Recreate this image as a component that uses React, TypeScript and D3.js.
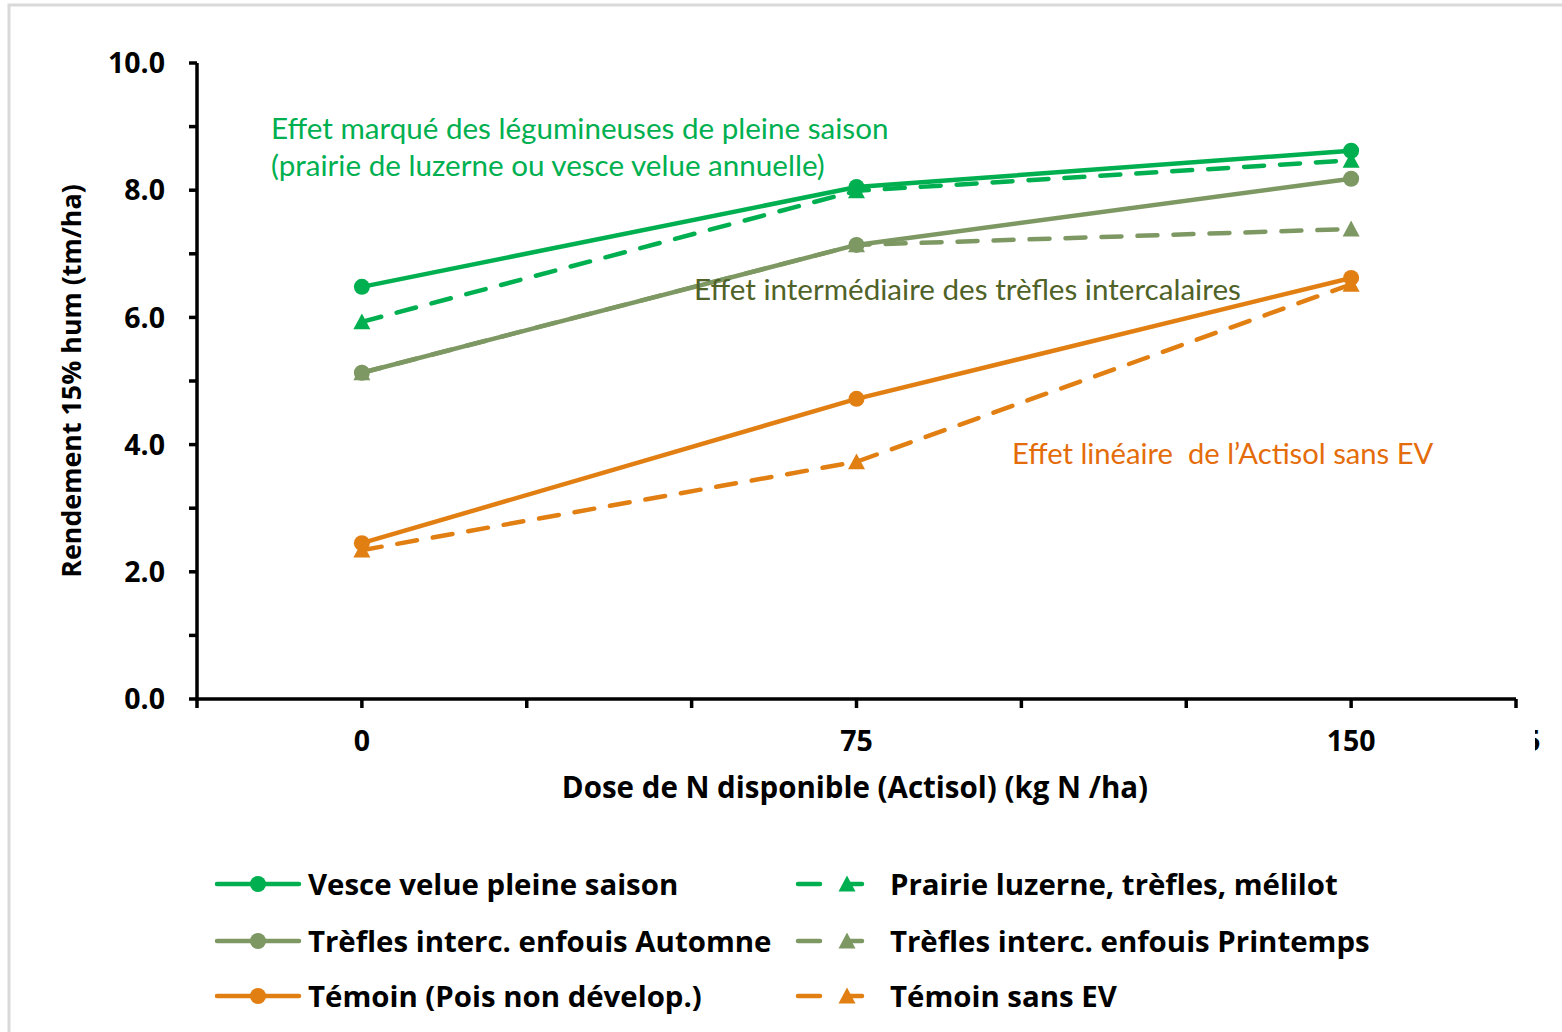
import React from "react";
import * as d3 from "d3";

const doses = [0, 75, 150];
const vesce = [6.48, 8.05, 8.62];
const prairie = [5.93, 7.99, 8.47];
const trefAut = [5.13, 7.14, 8.18];
const trefPrin = [5.13, 7.14, 7.39];
const temoin = [2.45, 4.72, 6.62];
const temoinSansEV = [2.34, 3.73, 6.52];

const seriesNames = [
  "Vesce velue pleine saison",
  "Prairie luzerne, trèfles, mélilot",
  "Trèfles interc. enfouis Automne",
  "Trèfles interc. enfouis Printemps",
  "Témoin (Pois non dévelop.)",
  "Témoin sans EV",
];

const yTicks = [0, 1, 2, 3, 4, 5, 6, 7, 8, 9, 10];
const yLabels = [0, 2, 4, 6, 8, 10];
const xTicks = [-25, 0, 25, 50, 75, 100, 125, 150, 175];
const xLabels = [0, 75, 150];

const GREEN = "#00B050";
const OLIVE = "#7E9863";
const ORANGE = "#E17F13";

const series = [
  { name: seriesNames[0], values: vesce, color: GREEN, dashed: false, marker: "circle" },
  { name: seriesNames[1], values: prairie, color: GREEN, dashed: true, marker: "triangle" },
  { name: seriesNames[2], values: trefAut, color: OLIVE, dashed: false, marker: "circle" },
  { name: seriesNames[3], values: trefPrin, color: OLIVE, dashed: true, marker: "triangle" },
  { name: seriesNames[4], values: temoin, color: ORANGE, dashed: false, marker: "circle" },
  { name: seriesNames[5], values: temoinSansEV, color: ORANGE, dashed: true, marker: "triangle" },
];

const drawOrder = [3, 2, 5, 4, 1, 0];

const BOLD = "'Open Sans', 'DejaVu Sans', sans-serif";
const ANNOT = "Lato, 'Noto Sans', sans-serif";

function Marker({ type, cx, cy, color }: { type: string; cx: number; cy: number; color: string }) {
  if (type === "circle") return <circle cx={cx} cy={cy} r={8} fill={color} />;
  const s = 17;
  const h = s * 0.87;
  const p = `M${cx},${cy - h / 2 - 1} L${cx + s / 2},${cy + h / 2} L${cx - s / 2},${cy + h / 2} Z`;
  return <path d={p} fill={color} />;
}

export default function App() {
  const x = d3.scaleLinear().domain([-25, 175]).range([197, 1516]);
  const y = d3.scaleLinear().domain([0, 10]).range([699, 63]);
  const line = d3
    .line<number>()
    .x((_, i) => x(doses[i]))
    .y((v) => y(v));

  const legendRows = [884, 941, 996];

  return (
    <svg width={1562} height={1032} style={{ position: "absolute", left: 0, top: 0, background: "#fff" }}>
      <defs>
        <clipPath id="edgeclip">
          <rect x={1535} y={720} width={6} height={40} />
        </clipPath>
      </defs>
      <rect x={0} y={0} width={1562} height={1032} fill="#fff" />
      <rect x={9} y={5} width={1560} height={1040} fill="none" stroke="#d9d9d9" strokeWidth={3} />

      {/* axes */}
      <line x1={197} x2={197} y1={y(10)} y2={y(0)} stroke="#000" strokeWidth={3.5} />
      <line x1={x(-25)} x2={x(175)} y1={y(0)} y2={y(0)} stroke="#000" strokeWidth={3.5} />
      {yTicks.map((t) => (
        <line key={"yt" + t} x1={189} x2={197} y1={y(t)} y2={y(t)} stroke="#000" strokeWidth={3.5} />
      ))}
      {xTicks.map((t) => (
        <line key={"xt" + t} x1={x(t)} x2={x(t)} y1={y(0)} y2={y(0) + 9} stroke="#000" strokeWidth={3.5} />
      ))}
      {yLabels.map((t) => (
        <text
          key={"yl" + t}
          x={165}
          y={y(t)}
          dy="0.36em"
          textAnchor="end"
          fontFamily={BOLD}
          fontWeight={700}
          fontSize={28.5}
          fill="#000"
        >
          {t.toFixed(1)}
        </text>
      ))}
      {xLabels.map((t) => (
        <text
          key={"xl" + t}
          x={x(t)}
          y={751}
          textAnchor="middle"
          fontFamily={BOLD}
          fontWeight={700}
          fontSize={28.5}
          fill="#000"
        >
          {t}
        </text>
      ))}
      <text
        x={x(175)}
        y={751}
        textAnchor="middle"
        fontFamily={BOLD}
        fontWeight={700}
        fontSize={28.5}
        fill="#000"
        clipPath="url(#edgeclip)"
      >
        175
      </text>
      <text
        x={855}
        y={798}
        textAnchor="middle"
        fontFamily={BOLD}
        fontWeight={700}
        fontSize={29.5}
        fill="#000"
      >
        Dose de N disponible (Actisol) (kg N /ha)
      </text>
      <text
        transform={`translate(81,381) rotate(-90)`}
        textAnchor="middle"
        fontFamily={BOLD}
        fontWeight={700}
        fontSize={26.8}
        fill="#000"
      >
        Rendement 15% hum (tm/ha)
      </text>

      {/* series */}
      {drawOrder.map((si) => {
        const s = series[si];
        return (
          <g key={s.name}>
            <path
              d={line(s.values) || ""}
              fill="none"
              stroke={s.color}
              strokeWidth={4.5}
              strokeDasharray={s.dashed ? "20,16" : undefined}
              strokeLinecap="round"
            />
            {s.values.map((v, i) => (
              <Marker key={i} type={s.marker} cx={x(doses[i])} cy={y(v)} color={s.color} />
            ))}
          </g>
        );
      })}

      {/* annotations */}
      <text x={271} y={139} fontFamily={ANNOT} fontSize={29.6} fill={GREEN}>
        Effet marqué des légumineuses de pleine saison
      </text>
      <text x={271} y={176} fontFamily={ANNOT} fontSize={29.6} fill={GREEN}>
        (prairie de luzerne ou vesce velue annuelle)
      </text>
      <text x={694} y={300} fontFamily={ANNOT} fontSize={29.6} fill="#4F6228">
        Effet intermédiaire des trèfles intercalaires
      </text>
      <text x={1012} y={464} fontFamily={ANNOT} fontSize={29.2} fill="#E46C0A" style={{ whiteSpace: "pre" }}>
        {"Effet linéaire  de l’Actisol sans EV"}
      </text>

      {/* legend */}
      {series.map((s, i) => {
        const col = i % 2;
        const row = Math.floor(i / 2);
        const cy = legendRows[row];
        if (col === 0) {
          return (
            <g key={"lg" + i}>
              <line x1={217} x2={299} y1={cy} y2={cy} stroke={s.color} strokeWidth={4.5} strokeLinecap="round" />
              <Marker type={s.marker} cx={258} cy={cy} color={s.color} />
              <text x={308} y={cy} dy="0.36em" fontFamily={BOLD} fontWeight={700} fontSize={29.4} fill="#000">
                {s.name}
              </text>
            </g>
          );
        }
        return (
          <g key={"lg" + i}>
            <line x1={798} x2={820} y1={cy} y2={cy} stroke={s.color} strokeWidth={4.5} strokeLinecap="round" />
            <line x1={848} x2={862} y1={cy} y2={cy} stroke={s.color} strokeWidth={4.5} strokeLinecap="round" />
            <Marker type={s.marker} cx={847} cy={cy} color={s.color} />
            <text x={890} y={cy} dy="0.36em" fontFamily={BOLD} fontWeight={700} fontSize={29.4} fill="#000">
              {s.name}
            </text>
          </g>
        );
      })}
    </svg>
  );
}
